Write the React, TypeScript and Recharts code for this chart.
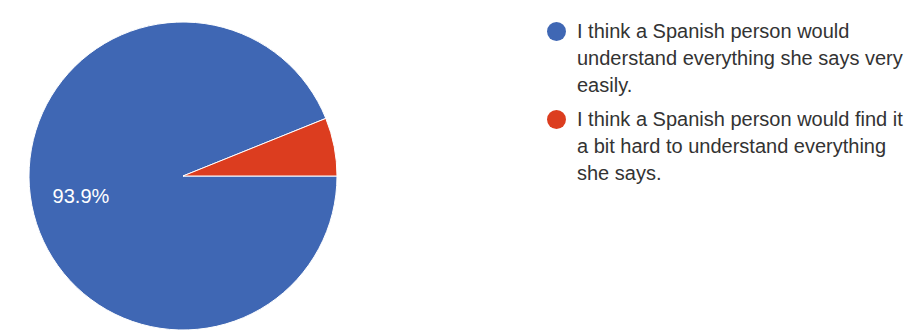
import { Cell, Legend, Pie, PieChart } from "recharts";

const answers = [
  "I think a Spanish person would understand everything she says very easily.",
  "I think a Spanish person would find it a bit hard to understand everything she says.",
];
const shares = [93.9, 6.1];
const colors = ["#3f67b4", "#dc3d1f"];

const rows = answers.map((name, i) => ({ name, value: shares[i] }));

const FONT = "'Liberation Sans', Arial, sans-serif";
const RAD = Math.PI / 180;

function renderLabel(props: any) {
  const { cx, cy, midAngle, outerRadius, percent } = props;
  if (percent < 0.1) return null;
  const r = outerRadius * 0.675;
  const x = cx + r * Math.cos(-midAngle * RAD);
  const y = cy + r * Math.sin(-midAngle * RAD);
  return (
    <text
      x={x}
      y={y}
      fill="#ffffff"
      fontSize={20}
      fontFamily={FONT}
      textAnchor="middle"
      dominantBaseline="central"
    >
      {`${(percent * 100).toFixed(1)}%`}
    </text>
  );
}

function LegendList() {
  return (
    <div style={{ fontFamily: FONT, fontSize: 20, lineHeight: "27px", color: "#333" }}>
      {rows.map((row, i) => (
        <div key={row.name} style={{ display: "flex", alignItems: "flex-start", marginBottom: 7 }}>
          <span
            style={{
              width: 19,
              height: 19,
              borderRadius: "50%",
              background: colors[i],
              marginTop: 4,
              marginRight: 11,
              flex: "0 0 auto",
            }}
          />
          <span style={{ width: 336 }}>{row.name}</span>
        </div>
      ))}
    </div>
  );
}

export default function App() {
  return (
    <div style={{ width: 920, height: 331, background: "#fff" }}>
      <style>{`body{margin:0}`}</style>
      <PieChart width={920} height={331} margin={{ top: 0, right: 0, bottom: 0, left: 0 }}>
        <Pie
          data={rows}
          dataKey="value"
          nameKey="name"
          cx={183}
          cy={176}
          outerRadius={154}
          startAngle={0}
          endAngle={-360}
          stroke="#ffffff"
          strokeWidth={1}
          labelLine={false}
          label={renderLabel}
          isAnimationActive={false}
        >
          {rows.map((row, i) => (
            <Cell key={row.name} fill={colors[i]} />
          ))}
        </Pie>
        <Legend
          layout="vertical"
          verticalAlign="top"
          align="right"
          content={() => <LegendList />}
          wrapperStyle={{ left: 547, top: 18, width: 370 }}
        />
      </PieChart>
    </div>
  );
}
